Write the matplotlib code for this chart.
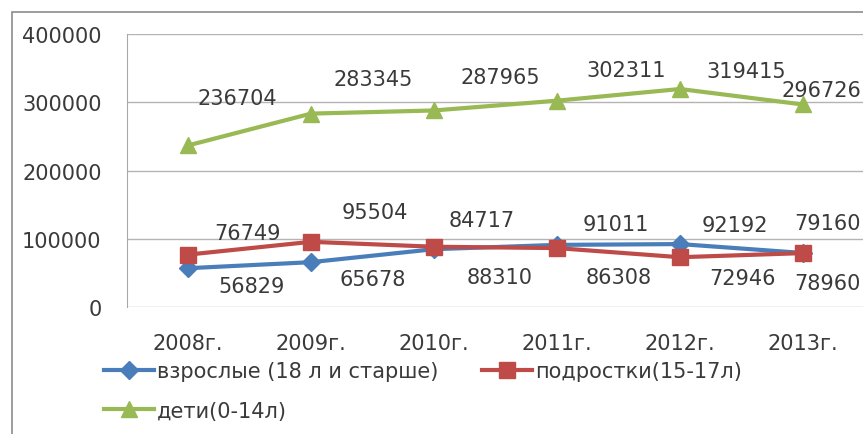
import matplotlib
matplotlib.use("Agg")
import matplotlib.pyplot as plt
from matplotlib.patches import Rectangle

# yearly counts by age group
years = ["2008г.", "2009г.", "2010г.", "2011г.", "2012г.", "2013г."]
adults = [56829, 65678, 84717, 91011, 92192, 79160]
teens = [76749, 95504, 88310, 86308, 72946, 78960]
children = [236704, 283345, 287965, 302311, 319415, 296726]

adults_name = "взрослые (18 л и старше)"
teens_name = "подростки(15-17л)"
children_name = "дети(0-14л)"

# label offsets in pixels (dx, dy) from each point
adults_off = [(64, -18), (62, -17), (48, 29), (59, 21), (55, 19), (24, 30)]
teens_off = [(59, 22), (64, 30), (66, -30), (62, -29), (62, -21), (24, -30)]
children_off = [(49, 47), (62, 35), (66, 33), (69, 31), (66, 18), (18, 14)]

W, H = 863, 435
TEXT = "#3a3a3a"
plt.rcParams["font.family"] = ["DejaVu Sans"]

fig = plt.figure(figsize=(W / 100, H / 100), dpi=100)
fig.patch.set_facecolor("white")

# outer chart frame (runs off the right and bottom edges)
fig.patches.append(Rectangle((12 / W, -0.2), 1.5, 1.2 - 13 / H,
                             transform=fig.transFigure, fill=False,
                             edgecolor="#8c8c8c", linewidth=1.2))

left, right, top, bottom = 126.5, 864.5, 35, 308
ax = fig.add_axes([left / W, 1 - bottom / H, (right - left) / W, (bottom - top) / H])

x = list(range(len(years)))
l_ad, = ax.plot(x, adults, color="#4A7EBB", lw=3, marker="D", ms=9, zorder=3, label=adults_name)
l_te, = ax.plot(x, teens, color="#BE4B48", lw=3, marker="s", ms=12, zorder=4, label=teens_name)
l_ch, = ax.plot(x, children, color="#98B954", lw=3, marker="^", ms=12, zorder=3, label=children_name)

for vals, offs in ((adults, adults_off), (teens, teens_off), (children, children_off)):
    for i, v in enumerate(vals):
        ax.annotate(str(v), (i, v), xytext=offs[i], textcoords="offset pixels",
                    ha="center", va="center", fontsize=15, color=TEXT,
                    annotation_clip=False, zorder=5)

ax.set_xlim(-0.5, len(years) - 0.5)
ax.set_ylim(0, 400000)
ax.set_yticks(range(0, 400001, 100000))
ax.set_yticklabels([str(t) for t in range(0, 400001, 100000)])
ax.set_xticks(x)
ax.set_xticklabels(years)
ax.tick_params(length=0, labelsize=15, labelcolor=TEXT)
ax.tick_params(axis="y", pad=18)
ax.tick_params(axis="x", pad=19)
ax.grid(axis="y", color="#b4b4b4", lw=1)
ax.set_axisbelow(True)
for s in ("top", "right", "bottom"):
    ax.spines[s].set_visible(False)
ax.spines["left"].set_color("#a8a8a8")

# two columns: adults and children on the left, teens on the right
fig.legend(handles=[l_ad, l_ch, l_te], loc="upper left",
           bbox_to_anchor=(104 / W, 1 - 362 / H), ncol=2,
           frameon=False, fontsize=15, labelcolor=TEXT, handlelength=2.4,
           handletextpad=0.15, columnspacing=2.1, labelspacing=0.95,
           borderaxespad=0, borderpad=0)

fig.savefig("out.png", dpi=100)
